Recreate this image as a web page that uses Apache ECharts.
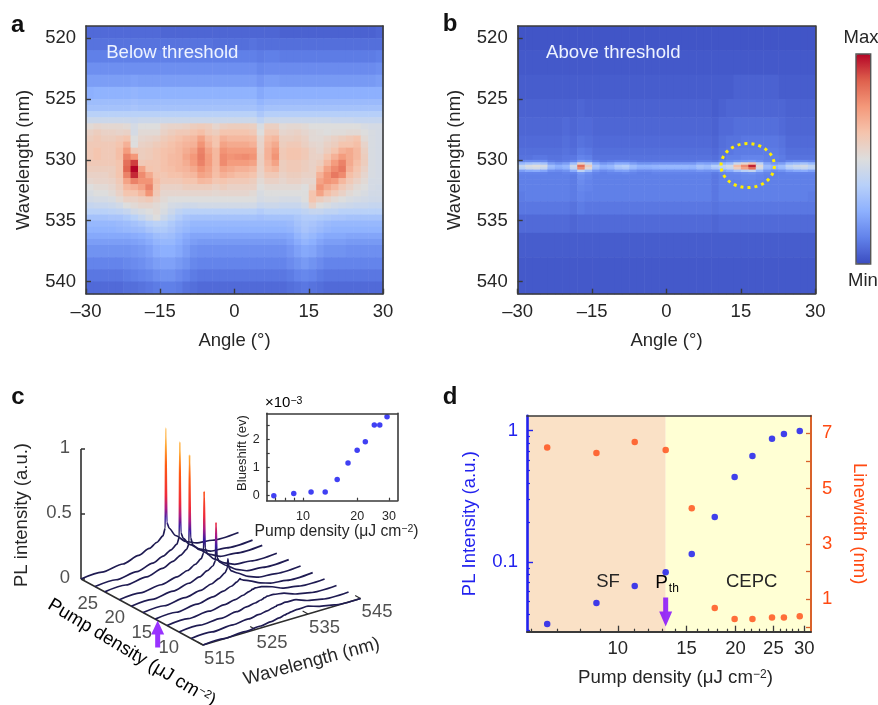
<!DOCTYPE html>
<html><head><meta charset="utf-8">
<script src="https://cdn.jsdelivr.net/npm/echarts@6/dist/echarts.min.js"></script>
<style>html,body{margin:0;padding:0;background:#fff}#c{width:878px;height:705px}</style>
</head><body><div id="c"></div>
<script>
const FONT='"Liberation Sans",Arial,sans-serif', INK='#262626', FRAME='#3a3a3a';
// Panel a / b colour-map grids: value 0 (Min) .. 100 (Max), read by eye
const anglesCells=[-30,-28.5,-27,-25.5,-24,-22.5,-21,-19.5,-18,-16.5,-15,-13.5,-12,-10.5,-9,-7.5,-6,-4.5,-3,-1.5,0,1.5,3,4.5,6,7.5,9,10.5,12,13.5,15,16.5,18,19.5,21,22.5,24,25.5,27,28.5,30];
const wavelengthEdgesA=[519,520,521,522,523,524,525,525.5,526,526.5,527,527.5,528,528.5,529,529.5,530,530.5,531,531.5,532,532.5,533,533.5,534,534.5,535,535.5,536,536.5,537,538,539,540,541];
const intensityA=[
[7,7,7,7,7,7,7,7,7,7,6,6,6,6,6,6,6,6,6,6,6,6,6,6,6,6,5,5,5,5,5,5,5,5,5,5,5,5,5,6],
[9,9,9,9,9,9,9,9,9,9,9,9,9,9,9,9,9,8,8,8,8,8,9,8,8,8,8,8,8,8,8,8,8,8,8,8,8,8,8,8],
[12,12,12,12,12,12,12,12,12,12,12,12,12,12,12,12,12,12,12,12,12,12,12,11,12,12,11,11,11,11,11,11,11,11,11,11,11,11,11,12],
[16,16,16,16,16,16,16,16,16,16,16,16,16,16,16,16,16,16,16,16,16,16,16,14,15,15,15,15,15,15,15,15,15,15,15,15,15,15,15,16],
[20,20,20,20,20,20,21,20,20,20,20,20,20,20,20,20,20,20,20,20,20,20,20,18,20,20,19,19,19,19,19,19,19,19,19,19,19,19,19,20],
[25,26,26,26,26,26,27,26,26,26,26,26,26,26,26,26,26,26,26,26,26,26,26,23,25,25,25,25,25,25,25,25,25,25,25,25,25,25,25,25],
[30,30,30,30,30,30,31,30,30,30,30,30,30,30,30,30,30,30,30,30,30,30,30,27,29,29,29,29,29,29,29,29,29,29,29,29,29,29,29,29],
[32,32,32,32,32,32,33,32,32,32,32,32,32,32,32,32,32,32,32,32,32,32,32,30,32,32,32,32,32,32,32,32,32,32,32,32,32,32,32,32],
[38,38,38,38,38,38,38,38,38,38,38,38,38,38,38,38,38,38,38,38,38,38,38,34,37,37,37,37,37,37,37,37,37,37,37,37,37,37,37,37],
[44,44,44,44,44,44,43,44,44,44,44,44,44,44,44,44,44,44,44,44,44,44,44,40,44,44,44,44,44,44,44,44,44,43,43,43,42,42,42,42],
[52,54,53,53,53,52,47,50,50,50,54,55,55,56,58,59,58,54,57,58,58,58,57,48,57,57,52,53,53,52,50,50,50,50,50,50,50,48,47,47],
[56,58,56,56,55,56,47,52,52,52,56,58,60,60,62,64,60,58,62,62,62,62,60,50,60,60,54,55,56,54,52,51,50,51,51,52,52,50,48,47],
[58,60,58,58,60,62,50,54,55,56,59,61,63,65,66,72,65,62,68,66,66,66,65,54,64,66,57,57,58,56,52,52,54,56,58,60,62,52,48,47],
[60,60,60,60,62,68,50,56,57,59,61,63,65,67,68,76,68,62,72,70,70,70,68,55,66,70,58,60,60,57,54,53,56,58,62,62,64,55,48,47],
[60,62,60,60,64,74,60,58,59,61,63,64,66,69,72,80,72,66,76,74,74,74,74,56,68,74,60,62,62,60,56,54,58,62,68,70,66,57,48,47],
[60,62,60,60,64,80,75,58,59,61,63,65,66,71,75,81,74,66,78,76,77,78,76,57,68,76,60,62,62,60,56,56,62,68,74,70,66,58,48,47],
[60,60,60,60,62,84,92,60,61,61,63,65,66,69,74,80,74,66,78,74,74,74,72,57,66,72,58,60,60,58,56,58,66,74,80,70,64,58,48,47],
[58,58,58,58,62,86,100,72,62,61,63,64,66,67,70,76,72,65,72,70,68,68,66,56,64,66,58,60,60,58,56,62,72,78,82,68,62,56,48,47],
[56,56,56,58,62,80,95,78,70,62,61,63,63,65,66,72,70,64,68,66,64,64,62,55,60,60,56,58,58,56,56,68,76,82,78,64,60,54,48,47],
[54,55,55,56,60,72,80,76,76,64,60,60,60,62,62,66,65,61,62,60,60,60,58,52,56,56,54,56,56,54,54,72,76,74,66,60,56,52,47,47],
[50,52,52,54,58,66,68,72,80,62,56,56,56,58,58,58,58,56,58,56,56,56,56,50,52,52,52,52,52,50,56,76,70,66,60,56,52,50,47,46],
[48,50,50,52,56,62,62,66,76,60,54,54,54,54,54,54,54,53,54,54,54,54,52,48,50,50,50,50,50,50,62,72,64,60,56,52,50,48,46,46],
[46,47,47,48,52,56,56,58,60,56,52,50,50,50,50,50,50,50,50,50,50,50,50,47,48,48,47,47,47,50,62,58,55,52,50,48,47,46,45,45],
[42,43,43,44,46,50,52,54,54,52,50,47,46,45,45,46,46,46,46,46,46,46,46,43,44,44,43,43,43,46,56,50,48,46,45,44,43,43,42,42],
[38,38,38,39,40,42,46,48,50,52,48,44,40,38,38,38,38,38,38,38,38,38,38,36,38,38,38,38,38,40,42,42,40,40,38,38,38,38,38,38],
[32,32,32,33,33,35,38,42,46,50,44,40,36,33,32,32,32,32,32,32,32,32,32,31,32,32,32,32,34,36,36,35,34,33,33,32,32,32,32,32],
[28,28,28,28,29,30,32,34,37,39,38,35,32,30,28,28,28,28,28,28,28,28,28,28,28,28,28,29,32,34,33,31,29,28,28,28,28,28,28,28],
[26,26,26,26,27,28,29,30,33,35,35,33,30,28,26,26,26,26,26,26,26,26,26,26,26,26,26,27,30,33,31,29,27,26,26,26,26,26,26,26],
[23,23,23,23,23,23,24,25,27,30,31,30,27,24,22,22,22,22,22,22,22,22,22,22,22,22,22,23,27,30,28,25,23,23,23,22,22,22,22,22],
[20,20,20,20,20,20,21,22,24,27,28,28,25,22,20,19,19,19,19,19,19,19,19,19,19,19,19,21,24,27,25,22,20,20,20,19,19,19,19,19],
[17,17,17,17,17,17,18,19,21,24,25,25,23,20,17,16,16,16,16,16,16,16,16,16,16,16,16,18,21,23,22,19,17,17,17,16,16,16,16,16],
[13,13,13,13,13,14,15,16,18,20,21,21,19,17,14,13,13,13,13,13,13,13,13,13,13,13,13,15,17,19,17,15,13,13,13,13,13,13,13,13],
[10,10,10,10,10,11,12,13,14,16,17,17,15,13,11,10,10,10,10,10,10,10,10,10,10,10,10,11,13,14,13,11,10,10,10,10,10,10,10,10],
[7,7,7,7,7,8,8,9,10,11,12,12,11,9,8,7,7,7,7,7,7,7,7,7,7,7,7,8,9,10,9,8,7,7,7,7,7,7,7,7]
];
const wavelengthEdgesB=[519,521,523,525,526.5,528,529,529.6,530,530.2,530.4,530.6,530.8,531,531.2,531.6,532,532.6,533.4,534.5,536,538,541];
const intensityB=[
[2,2,2,2,2,2,2,2,2,2,2,2,2,2,2,2,2,2,2,2,2,2,2,2,2,2,2,2,2,2,2,2,2,2,2,2,2,2,2,2],
[3,3,3,3,3,3,3,3,3,3,3,3,3,3,3,3,3,3,3,3,3,3,3,3,3,3,3,3,3,3,3,3,3,3,3,3,3,3,3,3],
[4,4,4,4,4,4,4,4,4,4,4,4,4,4,4,4,4,4,4,4,4,4,4,4,4,4,4,4,4,5,5,5,5,5,5,4,4,4,4,4],
[5,5,5,5,5,5,5,5,6,5,5,5,5,5,5,5,5,5,5,5,5,5,5,5,5,5,4,5,6,6,6,6,6,6,6,6,5,5,5,5],
[6,6,6,6,6,6,7,6,7,7,6,6,6,6,6,6,6,6,6,6,6,6,6,6,6,6,5,7,7,8,8,8,8,8,8,7,6,6,6,6],
[7,7,7,7,7,7,8,7,9,8,7,7,7,7,7,7,7,7,7,7,7,7,7,7,7,7,6,8,9,9,10,10,10,10,10,9,7,7,7,7],
[8,8,8,8,8,8,9,8,11,10,8,8,8,8,8,8,8,8,8,8,8,8,8,8,8,8,7,9,10,11,11,11,11,11,11,10,8,8,8,8],
[9,9,10,10,9,9,10,10,13,12,9,9,9,9,9,9,9,9,9,9,9,9,9,9,9,9,8,10,12,12,13,13,13,12,12,11,9,9,9,9],
[14,15,15,15,11,10,11,13,19,17,12,10,11,12,12,11,10,10,10,10,10,10,10,10,11,11,10,13,15,17,18,19,16,13,12,11,13,14,14,13],
[28,32,34,32,20,17,20,30,56,42,23,18,20,24,24,20,17,17,18,18,18,18,18,18,22,21,22,26,30,44,54,62,40,22,18,20,28,30,32,28],
[42,48,50,47,30,25,28,44,84,58,33,26,28,35,37,30,26,26,27,28,28,28,28,27,32,30,37,41,46,64,78,96,52,30,26,30,40,44,46,40],
[38,44,46,42,27,23,26,40,78,52,30,24,26,32,34,28,24,24,25,26,26,26,26,25,30,28,33,37,42,58,72,84,46,28,24,28,36,40,42,38],
[20,23,24,22,16,15,17,24,40,30,18,15,17,20,21,17,15,15,16,16,16,16,16,16,18,17,17,21,24,32,38,42,28,18,15,17,21,23,24,21],
[13,13,13,13,12,12,13,13,19,16,13,12,13,13,14,13,12,12,13,13,13,13,13,13,13,13,11,13,14,15,16,17,15,13,12,12,13,13,13,13],
[12,12,12,12,12,12,12,11,16,14,12,12,12,12,12,12,12,12,12,12,12,12,12,12,12,12,10,12,13,13,14,14,13,12,12,12,12,12,12,12],
[12,12,12,12,12,12,12,11,15,13,12,12,12,12,12,12,12,12,12,12,12,12,12,12,12,12,10,12,12,12,13,13,12,12,12,12,12,12,12,12],
[12,12,12,12,12,12,12,11,14,13,12,12,12,12,12,12,12,12,12,12,12,12,12,12,12,12,10,12,12,12,12,12,12,12,12,12,12,12,12,12],
[11,12,12,12,12,12,12,11,13,12,12,12,12,12,12,12,12,12,12,12,12,12,12,12,12,12,10,12,12,12,12,12,12,12,12,12,12,12,12,11],
[10,10,10,10,10,10,10,9,11,10,10,10,10,10,10,10,10,10,10,10,10,10,10,10,10,10,9,10,10,10,10,10,10,10,10,10,10,10,10,10],
[7,7,7,7,7,7,7,6,7,7,7,7,7,7,7,7,7,7,7,7,7,7,7,7,7,7,6,7,7,7,7,7,7,7,7,7,7,7,7,7],
[4,4,4,4,4,4,4,4,4,4,4,4,4,4,4,4,4,4,4,4,4,4,4,4,4,4,4,4,4,4,4,4,4,4,4,4,4,4,4,4],
[3,3,3,3,3,3,3,3,3,3,3,3,3,3,3,3,3,3,3,3,3,3,3,3,3,3,3,3,3,3,3,3,3,3,3,3,3,3,3,3]
];
const angleTicks=[-30,-15,0,15,30];
const wavelengthTicks=[520,525,530,535,540];
const circledSpot=[[16.37,530.47,5.38,1.81]];
const coolwarm=['#3b4cc0','#6282ea','#8db0fe','#b8d0f9','#dddddd','#f5c4ad','#f4987a','#de604d','#b40426'];
// Panel c: spectra per pump density, rear to front
const pumpC=[29.2,26.6,24.8,22.1,19.9,17.7,15.46,13.26,11.05,8.82,6.6];
const lambdaC=[515,519,523,526,528,529.5,530.6,531.05,531.15,531.25,531.35,531.8,533,535,537,540,545];
const spectraC=[
[0,.005,.02,.05,.08,.11,.145,.2,.97,.97,.24,.19,.12,.05,.015,0,0],
[0,.005,.02,.05,.08,.11,.14,.19,.92,.92,.22,.17,.11,.05,.01,0,0],
[0,.005,.02,.05,.08,.11,.14,.18,.86,.86,.22,.16,.11,.05,.01,0,0],
[0,.005,.02,.045,.07,.1,.13,.17,.64,.64,.2,.15,.1,.045,.01,0,0],
[0,.005,.02,.045,.07,.1,.125,.16,.45,.45,.18,.14,.1,.045,.01,0,0],
[0,.005,.02,.04,.065,.09,.12,.15,.22,.22,.15,.12,.09,.04,.01,0,0],
[0,.005,.02,.04,.06,.08,.1,.115,.12,.12,.11,.1,.08,.04,.015,0,0],
[0,.005,.015,.03,.045,.06,.075,.08,.085,.085,.085,.09,.085,.06,.025,.005,0],
[0,.005,.01,.025,.04,.05,.06,.065,.07,.07,.07,.075,.075,.06,.03,.005,0],
[0,.003,.01,.02,.03,.04,.05,.055,.055,.055,.06,.06,.065,.06,.03,.005,0],
[0,.002,.008,.015,.025,.035,.045,.05,.05,.05,.05,.055,.06,.06,.035,.01,0]
];
const pumpTicksC=[25,20,15,10], lambdaTicksC=[515,525,535,545], intensityTicksC=[0,0.5,1];
// Inset
const pumpInset=[6.9,8.9,11.1,13.3,15.5,17.8,20,22.2,24.9,26.7,29.3];
const blueshift=[0,.08,.13,.13,.58,1.17,1.62,1.92,2.52,2.52,2.82];
// Panel d
const pumpD=[6.6,8.82,11.05,13.26,15.46,17.7,19.9,22.1,24.8,26.6,29.2];
const plIntensity=[.0337,.0487,.0656,.0834,.115,.22,.444,.641,.869,.944,.995];
const linewidth=[6.49,6.29,6.69,6.4,4.29,.69,.29,.29,.34,.34,.39];
const threshold=13.26;

const L=Math.log10;
function cells(xE,yE,m){const o=[];m.forEach((r,j)=>r.forEach((v,i)=>o.push([xE[i],xE[i+1],yE[j],yE[j+1],v])));return o;}
function project(p,l,I){return [81+(29.2-p)*5.4+(l-515)*5.25, 579+(29.2-p)*2.92-(l-515)*1.55-I*130];}
const T=18.5;
function renderCell(params,api){
  const a=api.coord([api.value(0),api.value(2)]),b=api.coord([api.value(1),api.value(3)]);
  return {type:'rect',shape:{x:a[0],y:a[1],width:b[0]-a[0]+.6,height:b[1]-a[1]+.6},style:{fill:api.visual('color')}};
}
function frameX(g,min,max){return {gridIndex:g,type:'value',position:'top',min,max,z:6,axisLine:{show:true,onZero:false,lineStyle:{color:FRAME,width:1.6}},axisTick:{show:false},axisLabel:{show:false},splitLine:{show:false}};}
function frameY(g,min,max,inv){return {gridIndex:g,type:'value',position:'right',min,max,inverse:!!inv,z:6,axisLine:{show:true,onZero:false,lineStyle:{color:FRAME,width:1.6}},axisTick:{show:false},axisLabel:{show:false},splitLine:{show:false}};}
const hmX=(g)=>({gridIndex:g,type:'value',position:'bottom',min:-30,max:30,interval:15,z:6,name:'Angle (°)',nameLocation:'middle',nameGap:38,
  nameTextStyle:{fontFamily:FONT,fontSize:T,color:INK},axisLine:{show:true,onZero:false,lineStyle:{color:FRAME,width:1.6}},
  axisTick:{show:true,inside:true,length:5,lineStyle:{color:FRAME,width:1.4}},splitLine:{show:false},
  axisLabel:{fontFamily:FONT,fontSize:T,color:INK,margin:9,formatter:v=>String(v).replace('-','–'),showMinLabel:true,showMaxLabel:true}});
const hmY=(g)=>({gridIndex:g,type:'value',position:'left',min:519,max:541,inverse:true,z:6,name:'Wavelength (nm)',nameLocation:'middle',nameGap:53,
  nameTextStyle:{fontFamily:FONT,fontSize:T,color:INK},axisLine:{show:true,onZero:false,lineStyle:{color:FRAME,width:1.6}},
  axisTick:{show:true,inside:true,length:5,customValues:wavelengthTicks,lineStyle:{color:FRAME,width:1.4}},splitLine:{show:false},
  axisLabel:{fontFamily:FONT,fontSize:T,color:INK,margin:10,customValues:wavelengthTicks}});

const dXMin=L(5.86),dXMax=L(31.2),dYMin=-1.531,dYMax=.114,rMin=-.17,rMax=7.636;
const iXMin=L(6.3),iXMax=L(33.4),iYMin=-.18,iYMax=2.94;
const BLUE='#2222ee',ORG='#ff4a12',ORGLINE='#d9622a';
const dName='{a|Pump density (μJ cm}{s|−2}{a|)}';
const richN=(f,s)=>({a:{fontFamily:FONT,fontSize:f,color:INK},s:{fontFamily:FONT,fontSize:s,color:INK,verticalAlign:'top'}});

const xAxis=[
 hmX(0),frameX(0,-30,30),hmX(1),frameX(1,-30,30),
 {gridIndex:2,type:'value',min:0,max:440,show:false},
 {gridIndex:3,type:'value',position:'bottom',min:iXMin,max:iXMax,z:6,name:dName,nameLocation:'middle',nameGap:22,
  nameTextStyle:{rich:richN(15.7,10.5),padding:[0,0,0,9]},axisLine:{show:true,onZero:false,lineStyle:{color:FRAME,width:1.6}},
  axisTick:{show:true,inside:true,length:3,customValues:[7,8,9,10,20,30].map(L),lineStyle:{color:FRAME,width:1.2}},splitLine:{show:false},
  axisLabel:{fontFamily:FONT,fontSize:12.5,color:INK,margin:9,customValues:[10,20,30].map(L),formatter:v=>String(Math.round(10**v))}},
 frameX(3,iXMin,iXMax),
 {gridIndex:4,type:'value',position:'bottom',min:dXMin,max:dXMax,z:6,name:dName,nameLocation:'middle',nameGap:37,
  nameTextStyle:{rich:richN(18.7,12),padding:[0,0,0,13]},axisLine:{show:true,onZero:false,lineStyle:{color:FRAME,width:1.8}},
  axisTick:{show:true,inside:true,length:6,customValues:[10,15,20,25,30].map(L),lineStyle:{color:FRAME,width:1.3}},splitLine:{show:false},
  axisLabel:{fontFamily:FONT,fontSize:T,color:INK,margin:8,customValues:[10,15,20,25,30].map(L),formatter:v=>String(Math.round(10**v))}},
 {gridIndex:4,type:'value',position:'bottom',min:dXMin,max:dXMax,z:6,axisLine:{show:false,onZero:false},axisLabel:{show:false},splitLine:{show:false},
  axisTick:{show:true,inside:true,length:3,customValues:[6,7,8,9,11,12,13,14,16,17,18,19,21,22,23,24,26,27,28,29].map(L),lineStyle:{color:FRAME,width:1.2}}},
 frameX(4,dXMin,dXMax)
];
const yAxis=[
 hmY(0),frameY(0,519,541,true),hmY(1),frameY(1,519,541,true),
 {gridIndex:2,type:'value',min:380,max:705,inverse:true,show:false},
 {gridIndex:3,type:'value',position:'left',min:iYMin,max:iYMax,z:6,name:'Blueshift (ev)',nameLocation:'middle',nameGap:11,
  nameTextStyle:{fontFamily:FONT,fontSize:13,color:INK,padding:[0,0,0,8]},axisLine:{show:true,onZero:false,lineStyle:{color:FRAME,width:1.6}},
  axisTick:{show:true,inside:true,length:3,customValues:[0,.5,1,1.5,2,2.5],lineStyle:{color:FRAME,width:1.2}},splitLine:{show:false},
  axisLabel:{fontFamily:FONT,fontSize:12.5,color:INK,margin:7,customValues:[0,1,2]}},
 frameY(3,iYMin,iYMax),
 {gridIndex:4,type:'value',position:'left',min:dYMin,max:dYMax,z:6,name:'PL Intensity (a.u.)',nameLocation:'middle',nameGap:48,
  nameTextStyle:{fontFamily:FONT,fontSize:T,color:BLUE},axisLine:{show:true,onZero:false,lineStyle:{color:BLUE,width:2.6}},
  axisTick:{show:true,inside:true,length:6,customValues:[.1,1].map(L),lineStyle:{color:BLUE,width:1.4}},splitLine:{show:false},
  axisLabel:{fontFamily:FONT,fontSize:T,color:BLUE,margin:9,customValues:[.1,1].map(L),formatter:v=>String(Math.round(10**v*10)/10)}},
 {gridIndex:4,type:'value',position:'left',min:dYMin,max:dYMax,z:6,axisLine:{show:false,onZero:false},axisLabel:{show:false},splitLine:{show:false},
  axisTick:{show:true,inside:true,length:3,customValues:[.03,.04,.05,.06,.07,.08,.09,.2,.3,.4,.5,.6,.7,.8,.9].map(L),lineStyle:{color:BLUE,width:1.2}}},
 {gridIndex:4,type:'value',position:'right',min:rMin,max:rMax,z:6,name:'Linewidth (nm)',nameLocation:'middle',nameGap:39,nameRotate:-90,
  nameTextStyle:{fontFamily:FONT,fontSize:T,color:ORG},axisLine:{show:true,onZero:false,lineStyle:{color:ORGLINE,width:2}},
  axisTick:{show:true,inside:true,length:5,customValues:[0,1,2,3,4,5,6,7],lineStyle:{color:ORGLINE,width:1.3}},splitLine:{show:false},
  axisLabel:{fontFamily:FONT,fontSize:T,color:ORG,margin:11,customValues:[1,3,5,7],padding:[0,0,5,0]}}
];
const stops=[[0,'#1f1b52'],[.2,'#1f1b52'],[.27,'#3a1aa0'],[.35,'#a81c88'],[.45,'#f02a3a'],[.68,'#ff5a12'],[.83,'#ffa52f'],[1,'#ffe0a8']];
const series=[
 {type:'custom',name:'Below threshold',xAxisIndex:0,yAxisIndex:0,renderItem:renderCell,encode:{x:[0,1],y:[2,3]},silent:true,data:cells(anglesCells,wavelengthEdgesA,intensityA)},
 {type:'custom',name:'Above threshold',xAxisIndex:2,yAxisIndex:2,renderItem:renderCell,encode:{x:[0,1],y:[2,3]},silent:true,data:cells(anglesCells,wavelengthEdgesB,intensityB)},
 {type:'custom',name:'Spot',xAxisIndex:2,yAxisIndex:2,z:4,silent:true,encode:{x:0,y:1},data:circledSpot,
  renderItem:(p,api)=>{const c=api.coord([api.value(0),api.value(1)]),e=api.coord([api.value(0)+api.value(2),api.value(1)+api.value(3)]);
   return {type:'ellipse',shape:{cx:c[0],cy:c[1],rx:e[0]-c[0],ry:e[1]-c[1]},style:{fill:'none',stroke:'#ffee00',lineWidth:3,lineDash:[3,4]}};}},
];
// panel c axes and small ticks
const cLine=(pts,w)=>({type:'line',xAxisIndex:4,yAxisIndex:4,symbol:'none',silent:true,data:pts,lineStyle:{color:'#2e2e2e',width:w},z:2});
series.push(cLine([project(pumpC[0],515,0),project(pumpC[10],515,0),project(pumpC[10],545,0)],1.6));
series.push(cLine([project(pumpC[0],515,0),project(pumpC[0],515,1)],1.6));
intensityTicksC.forEach(v=>{const q=project(pumpC[0],515,v);series.push(cLine([q,[q[0]+4,q[1]]],1.3));});
lambdaTicksC.forEach(v=>{series.push(cLine([project(pumpC[10],v,0),project(pumpC[10]+1,v,0)],1.2));});
spectraC.forEach((s,k)=>{
  const b=project(pumpC[k],531.2,0),t=project(pumpC[k],531.2,1);
  series.push({type:'line',name:'P='+pumpC[k],xAxisIndex:4,yAxisIndex:4,symbol:'none',silent:true,smooth:.25,smoothMonotone:'x',z:3+k*.01,
    data:lambdaC.map((l,i)=>project(pumpC[k],l,s[i])),
    lineStyle:{width:1.7,color:{type:'linear',global:true,x:0,y:b[1],x2:0,y2:t[1],colorStops:stops.map(q=>({offset:q[0],color:q[1]}))}}});
});
const lab=(pts)=>({type:'scatter',xAxisIndex:4,yAxisIndex:4,symbolSize:0,silent:true,z:5,data:pts,
  label:{show:true,position:'inside',fontFamily:FONT,fontSize:T,color:INK,formatter:p=>p.data[2]}});
series.push(lab(pumpTicksC.map(v=>{const q=project(v,515,0);return [q[0]-16,q[1]+12.5,String(v)];})));
series.push(lab(lambdaTicksC.map(v=>{const q=project(pumpC[10],v,0);return [q[0]+16.5,q[1]+13.5,String(v)];})));
series.push(lab(intensityTicksC.map(v=>{const q=project(pumpC[0],515,v);return [q[0]-(v==.5?22:16),q[1]-1.5,String(v)];})));
const ARROW='path://M6.5,0 L13,14 L9,14 L9,27 L4,27 L4,14 L0,14 Z';
series.push({type:'scatter',name:'threshold c',xAxisIndex:4,yAxisIndex:4,silent:true,z:6,symbol:ARROW,symbolSize:[13,27],symbolOffset:[0,13.5],itemStyle:{color:'#8000ff'},data:[project(15,515,0)]});
// inset
series.push({type:'scatter',name:'Blueshift',xAxisIndex:5,yAxisIndex:5,symbolSize:5.5,itemStyle:{color:'#1010f0'},silent:true,z:4,data:pumpInset.map((p,i)=>[L(p),blueshift[i]])});
// d
series.push({type:'scatter',name:'PL Intensity',xAxisIndex:7,yAxisIndex:7,symbolSize:6.5,itemStyle:{color:'#1010f0'},silent:true,z:4,
 data:pumpD.map((p,i)=>[L(p),L(plIntensity[i])]),
 markArea:{silent:true,z:1,data:[
  [{xAxis:dXMin,itemStyle:{color:'#fae1c6',opacity:1}},{xAxis:L(threshold)}],
  [{xAxis:L(threshold),itemStyle:{color:'#ffffd4',opacity:1}},{xAxis:dXMax}]]}});
series.push({type:'scatter',name:'Linewidth',xAxisIndex:7,yAxisIndex:9,symbolSize:6.5,itemStyle:{color:'#ff4a12'},silent:true,z:4,data:pumpD.map((p,i)=>[L(p),linewidth[i]])});
series.push({type:'scatter',name:'threshold d',xAxisIndex:7,yAxisIndex:7,silent:true,z:5,symbol:ARROW,symbolRotate:180,symbolSize:[13,29],itemStyle:{color:'#8000ff'},data:[[L(threshold),L(.0416)]]});

const txt=(text,x,y,o={})=>({type:'text',x,y,rotation:o.rot||0,z:20,silent:true,style:Object.assign({text,font:(o.weight||'normal')+' '+(o.size||T)+'px '+FONT,fill:o.fill||INK,align:o.align||'center',verticalAlign:'middle'},o.style||{})});
const graphic=[
 txt('a',17.7,25,{weight:'bold',size:24,fill:'#111'}),txt('b',450,24,{weight:'bold',size:24,fill:'#111'}),
 txt('c',18,397,{weight:'bold',size:24,fill:'#111'}),txt('d',450,397,{weight:'bold',size:24,fill:'#111'}),
 txt('Below threshold',172.3,52.7,{size:18.6,fill:'#eef3ff'}),txt('Above threshold',613.3,52.7,{size:18.6,fill:'#eef3ff'}),
 txt('Max',861,38),txt('Min',863,281),
 {type:'rect',z:20,silent:true,shape:{x:856,y:54,width:14.7,height:210},style:{fill:'none',stroke:'#555',lineWidth:1.4}},
 txt('PL intensity (a.u.)',22,515,{rot:Math.PI/2}),
 {type:'text',x:131.7,y:653,rotation:-31*Math.PI/180,z:20,silent:true,style:{text:'{a|Pump density (μJ cm}{s|−2}{a|)}',align:'center',verticalAlign:'middle',rich:richN(T,11.5)}},
 txt('Wavelength (nm)',311.7,661.7,{rot:15*Math.PI/180}),
 {type:'text',x:265,y:403,z:20,silent:true,style:{text:'{a|×10}{s|−3}',align:'left',verticalAlign:'middle',rich:richN(15,10.5)}},
 txt('SF',608,582),txt('CEPC',751.7,582),
 {type:'text',x:667,y:583,z:20,silent:true,style:{text:'{p|P}{t|th}',align:'center',verticalAlign:'middle',rich:{p:{fontFamily:FONT,fontSize:19,color:'#9030ff',lineHeight:24},t:{fontFamily:FONT,fontSize:12,color:'#9030ff',verticalAlign:'bottom',padding:[0,0,0,1]}}}}
];
const chart=echarts.init(document.getElementById('c'),null,{renderer:'canvas'});
chart.setOption({animation:false,backgroundColor:'#fff',
 grid:[{left:86,top:26,width:297,height:267.7},{left:517.7,top:26,width:297.6,height:267.7},{left:0,top:380,width:440,height:325},{left:266.7,top:413.3,width:130.6,height:87.4},{left:527,top:415.7,width:284,height:216}],
 xAxis,yAxis,
 visualMap:{type:'continuous',min:0,max:100,seriesIndex:[0,1],dimension:4,calculable:false,orient:'vertical',left:856,top:54,padding:0,itemWidth:14.7,itemHeight:210,text:['',''],textGap:0,inRange:{color:coolwarm},realtime:false,hoverLink:false},
 series,graphic});
</script></body></html>
